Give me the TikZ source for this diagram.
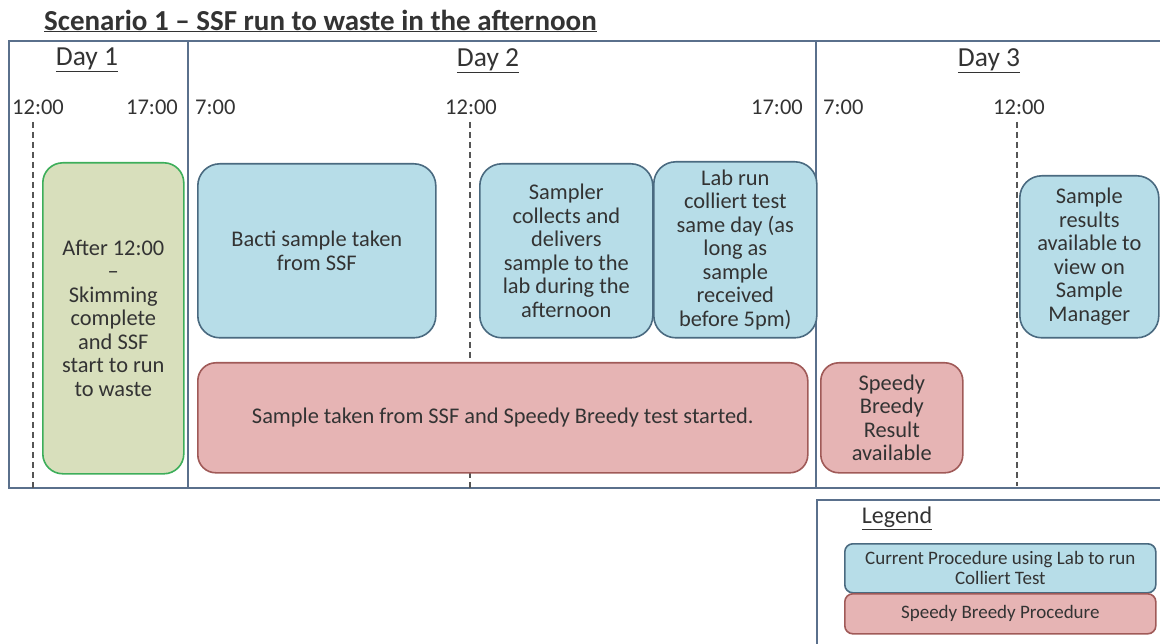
\documentclass[tikz,border=0pt]{standalone}
\usepackage{fontspec}
\setmainfont{Carlito}
\usetikzlibrary{positioning}
\definecolor{framec}{HTML}{5A708C}
\definecolor{txt}{HTML}{333333}
\definecolor{bluef}{HTML}{B7DDE8}
\definecolor{blued}{HTML}{4A6A80}
\definecolor{pinkf}{HTML}{E6B4B4}
\definecolor{pinkd}{HTML}{A05A58}
\definecolor{greenf}{HTML}{D8DFBC}
\definecolor{greend}{HTML}{3DAE5A}
\definecolor{dashc}{HTML}{555555}
\tikzset{
  frameline/.style={draw=framec, line width=1.6pt},
  dashline/.style={draw=dashc, line width=1.3pt, dash pattern=on 6pt off 4pt},
  boxbase/.style={anchor=north west, inner sep=0pt, align=center, text=txt, line width=1.6pt,
     font=\fontsize{22.4}{23.5}\selectfont},
  bluebox/.style={boxbase, draw=blued, fill=bluef, rounded corners=22pt},
  pinkbox/.style={boxbase, draw=pinkd, fill=pinkf, rounded corners=18pt},
  greenbox/.style={boxbase, draw=greend, fill=greenf, rounded corners=20pt},
  daylabel/.style={font=\fontsize{27.5}{30}\selectfont, text=txt},
  timelabel/.style={font=\fontsize{22.5}{25}\selectfont, text=txt, inner sep=0pt},
  legbox/.style={anchor=north west, inner sep=0pt, align=center, text=txt, line width=1.6pt,
     font=\fontsize{19}{20}\selectfont, rounded corners=8pt},
}
\begin{document}
\begin{tikzpicture}[x=1pt,y=-1pt]
\useasboundingbox (0,0) rectangle (1160,644);
\clip (0,0) rectangle (1160,644);
% title
\node[font=\fontsize{29}{32}\selectfont\bfseries, text=txt, anchor=west, inner sep=0pt] (title) at (44,21)
  {\underline{Scenario 1 -- SSF run to waste in the afternoon}};
% frame
\coordinate (ftl) at (9,41);
\coordinate (ftr) at (1162,41);
\coordinate (fbl) at (9,488);
\coordinate (fbr) at (1162,488);
\draw[frameline] (ftr) -- (ftl) -- (fbl) -- (fbr);
\coordinate (d1t) at (188,41); \coordinate (d1b) at (188,488);
\coordinate (d2t) at (816,41); \coordinate (d2b) at (816,488);
\draw[frameline] (d1t) -- (d1b);
\draw[frameline] (d2t) -- (d2b);
% legend frame
\coordinate (lgtr) at (1162,500);
\coordinate (lgtl) at (817,500);
\coordinate (lgbl) at (817,646);
\draw[frameline] (lgtr) -- (lgtl) -- (lgbl);
% day labels
\node[daylabel] (day1) at (87,60) {\underline{Day 1}};
\node[daylabel] (day2) at (488,61) {\underline{Day 2}};
\node[daylabel] (day3) at (989,61) {\underline{Day 3}};
% time labels
\node[timelabel, anchor=west] (t1) at (12,107) {12:00};
\node[timelabel, anchor=east] (t2) at (178,107) {17:00};
\node[timelabel, anchor=west] (t3) at (195,107) {7:00};
\node[timelabel] (t4) at (471,107) {12:00};
\node[timelabel, anchor=east] (t5) at (803,107) {17:00};
\node[timelabel, anchor=west] (t6) at (823,107) {7:00};
\node[timelabel] (t7) at (1019,107) {12:00};
% dashed time lines
\coordinate (dl1t) at (33,122); \coordinate (dl1b) at (33,488);
\coordinate (dl2t) at (470,122); \coordinate (dl2b) at (470,488);
\coordinate (dl3t) at (1017,122); \coordinate (dl3b) at (1017,486);
\draw[dashline] (dl1t) -- (dl1b);
\draw[dashline] (dl2t) -- (dl2b);
\draw[dashline] (dl3t) -- (dl3b);
% boxes
\node[greenbox, minimum width=141pt, minimum height=311pt] (green) at (42,162)
  {After 12:00\\--\\Skimming\\complete\\and SSF\\start to run\\to waste};
\node[bluebox, minimum width=238pt, minimum height=174pt] (bacti) at (197,163)
  {Bacti sample taken\\from SSF};
\node[bluebox, minimum width=173pt, minimum height=174pt] (sampler) at (479,163)
  {Sampler\\collects and\\delivers\\sample to the\\lab during the\\afternoon};
\node[bluebox, minimum width=163pt, minimum height=176pt] (lab) at (653,161)
  {Lab run\\colliert test\\same day (as\\long as\\sample\\received\\before 5pm)};
\node[bluebox, minimum width=139pt, minimum height=162pt] (results) at (1019,175)
  {Sample\\results\\available to\\view on\\Sample\\Manager};
\node[pinkbox, minimum width=610pt, minimum height=110pt] (speedy) at (197,362)
  {Sample taken from SSF and Speedy Breedy test started.};
\node[pinkbox, minimum width=142pt, minimum height=110pt] (result) at (820,362)
  {Speedy\\Breedy\\Result\\available};
% legend
\node[daylabel, font=\fontsize{24}{26}\selectfont] (legend) at (897,518) {\underline{Legend}};
\node[legbox, draw=blued, fill=bluef, minimum width=311pt, minimum height=49pt] (lgblue) at (844,543)
  {Current Procedure using Lab to run\\Colliert Test};
\node[legbox, draw=pinkd, fill=pinkf, minimum width=311pt, minimum height=40pt] (lgpink) at (844,593)
  {Speedy Breedy Procedure};
\end{tikzpicture}
\end{document}
